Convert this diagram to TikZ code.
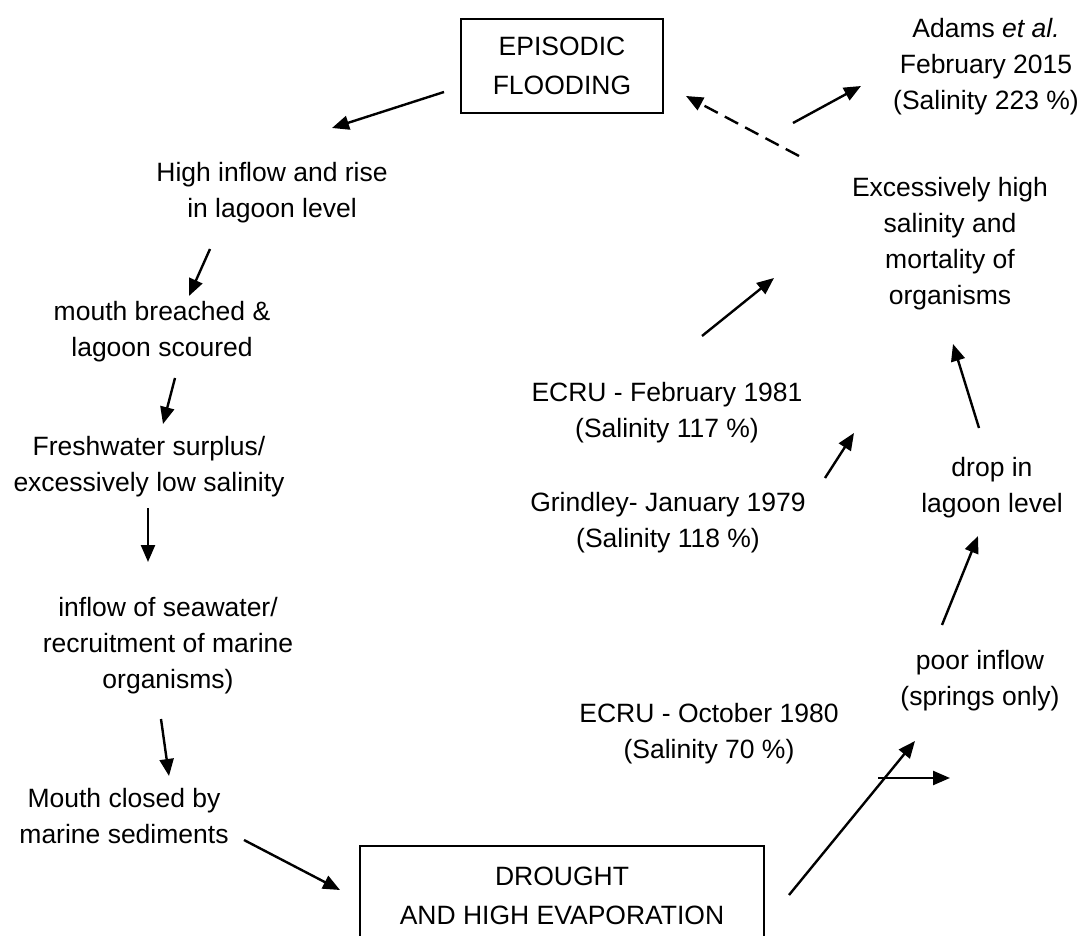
\documentclass[tikz,border=0pt]{standalone}
\usepackage{fontspec}
\setmainfont{Liberation Sans}
\usetikzlibrary{arrows.meta}
\begin{document}
\begin{tikzpicture}[x=1pt,y=-1pt,
  lbl/.style={anchor=north,align=center,inner sep=0pt,font=\fontsize{26.5}{36}\selectfont},
  boxnode/.style={draw,line width=2pt,align=center,inner sep=0pt,font=\fontsize{26.5}{39}\selectfont},
  arr/.style={line width=2.4pt,-{Triangle[length=17pt,width=14pt]}},
  darr/.style={arr,dash pattern=on 15pt off 8pt}]
\useasboundingbox (0,0) rectangle (1080,936);
\fill[white] (0,0) rectangle (1080,936);
\clip (0,0) rectangle (1080,936);

% boxes
\node[boxnode,minimum width=202pt,minimum height=94pt] (flood) at (562,66) {EPISODIC\\FLOODING};
\node[boxnode,anchor=north,minimum width=404pt,minimum height=99pt] (drought) at (562,845) {DROUGHT\\AND HIGH EVAPORATION};

% texts
\node[lbl] (adams) at (986,18) {Adams \textit{et al.}\\February 2015\\(Salinity 223 \%)};
\node[lbl] (high) at (272,162) {High inflow and rise\\in lagoon level};
\node[lbl] (mouth) at (162,301) {mouth breached \&\\lagoon scoured};
\node[lbl] (fresh) at (149,436) {Freshwater surplus/\\excessively low salinity};
\node[lbl] (inflow) at (168,597) {inflow of seawater/\\recruitment of marine\\organisms)};
\node[lbl] (closed) at (124,788) {Mouth closed by\\marine sediments};
\node[lbl] (excess) at (950,177) {Excessively high\\salinity and\\mortality of\\organisms};
\node[lbl] (drop) at (992,457) {drop in\\lagoon level};
\node[lbl] (poor) at (980,650) {poor inflow\\(springs only)};
\node[lbl] (oct) at (709,703) {ECRU - October 1980\\(Salinity 70 \%)};
\node[lbl] (feb) at (667,382) {ECRU - February 1981\\(Salinity 117 \%)};
\node[lbl] (grind) at (668,492) {Grindley- January 1979\\(Salinity 118 \%)};

% connector end points
\coordinate (a1s) at (444,92);  \coordinate (a1e) at (332,128);
\coordinate (a2s) at (210,249); \coordinate (a2e) at (189,296);
\coordinate (a3s) at (175,378); \coordinate (a3e) at (163,424);
\coordinate (a4s) at (148,508); \coordinate (a4e) at (148,562);
\coordinate (a5s) at (161,719); \coordinate (a5e) at (169,776);
\coordinate (a6s) at (244,840); \coordinate (a6e) at (340,890);
\coordinate (a7s) at (789,895); \coordinate (a7e) at (915,741);
\coordinate (a8s) at (878,778); \coordinate (a8e) at (950,778);
\coordinate (a9s) at (942,625); \coordinate (a9e) at (978,536);
\coordinate (a10s) at (979,428); \coordinate (a10e) at (953,344);
\coordinate (a11s) at (702,336); \coordinate (a11e) at (774,278);
\coordinate (a12s) at (825,478); \coordinate (a12e) at (854,433);
\coordinate (a13s) at (799,156); \coordinate (a13e) at (686,96);
\coordinate (a14s) at (793,123); \coordinate (a14e) at (861,86);

\draw[arr] (a1s) -- (a1e);
\draw[arr] (a2s) -- (a2e);
\draw[arr] (a3s) -- (a3e);
\draw[arr] (a4s) -- (a4e);
\draw[arr] (a5s) -- (a5e);
\draw[arr] (a6s) -- (a6e);
\draw[arr] (a7s) -- (a7e);
\draw[arr] (a8s) -- (a8e);
\draw[arr] (a9s) -- (a9e);
\draw[arr] (a10s) -- (a10e);
\draw[arr] (a11s) -- (a11e);
\draw[arr] (a12s) -- (a12e);
\draw[darr] (a13s) -- (a13e);
\draw[arr] (a14s) -- (a14e);
\end{tikzpicture}
\end{document}
